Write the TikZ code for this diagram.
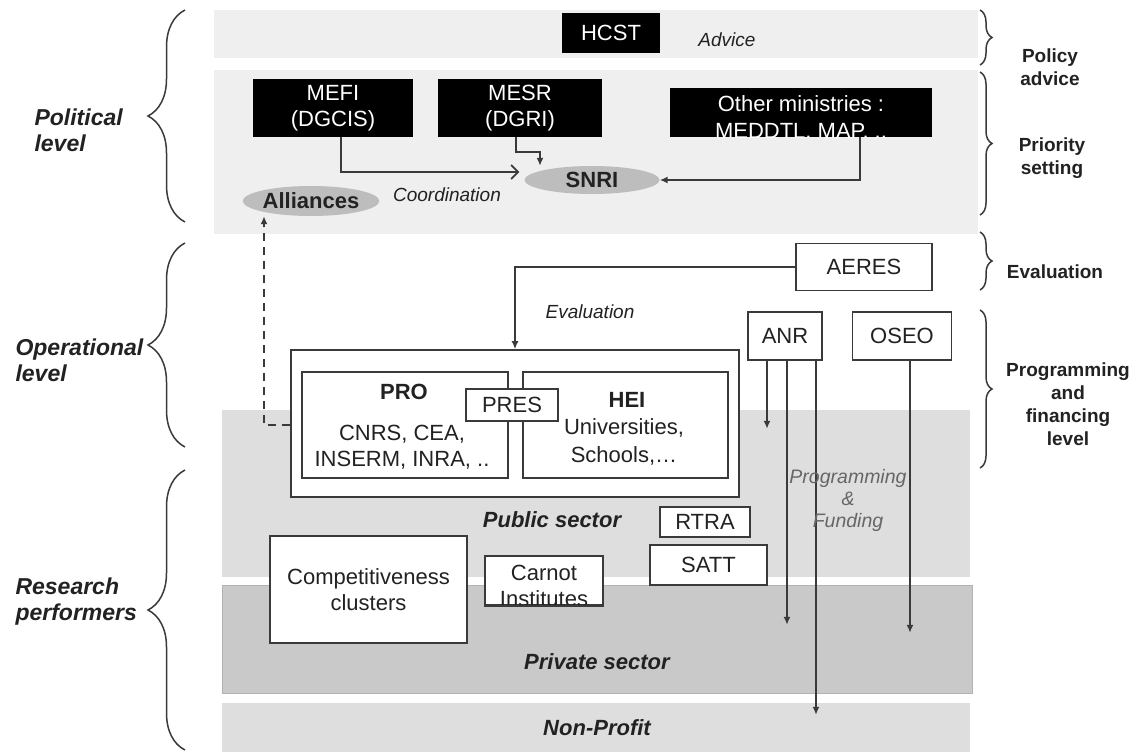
\documentclass[tikz,border=0pt]{standalone}
\usepackage{fontspec}
\setmainfont{Liberation Sans}
\usetikzlibrary{arrows.meta,decorations.pathreplacing,shapes.geometric,calc}
\definecolor{bandA}{HTML}{EFEFEF}
\definecolor{bandPub}{HTML}{DEDEDE}
\definecolor{bandPriv}{HTML}{C9C9C9}
\definecolor{ellgray}{HTML}{BDBDBD}
\definecolor{ink}{HTML}{222222}
\definecolor{edge}{HTML}{3A3A3A}
\newcommand{\fsz}[2]{\fontsize{#1}{#2}\selectfont}
\begin{document}
\begin{tikzpicture}[x=1pt,y=-1pt,
  wbox/.style={draw=edge, line width=1.6pt, fill=white, inner sep=0pt, align=center, text=ink, font=\fsz{22}{26}},
  bbox/.style={fill=black, inner sep=0pt, align=center, text=white, font=\fsz{22}{26}},
  ell/.style={ellipse, fill=ellgray, inner sep=0pt, font=\bfseries\fsz{22}{25}, text=ink},
  conn/.style={draw=edge, line width=1.7pt},
  tip/.style={-{Latex[length=8pt,width=7pt]}},
  lab/.style={font=\itshape\fsz{19}{22}, text=ink},
  side/.style={font=\bfseries\itshape\fsz{23}{26}, align=left, text=ink, anchor=west},
  rside/.style={font=\bfseries\fsz{19}{23}, align=center, text=ink},
  sector/.style={font=\bfseries\itshape\fsz{22}{25}, text=ink},
  lbrace/.style={decorate, decoration={brace, amplitude=37pt}, draw=edge, line width=1.5pt},
  rbrace/.style={decorate, decoration={brace, amplitude=12pt}, draw=edge, line width=1.5pt},
  plain/.style={font=\fsz{22}{26}, text=ink, align=center, inner sep=0pt},
]
\useasboundingbox (0,0) rectangle (1136,752);
\fill[white] (0,0) rectangle (1136,752);

% background bands
\fill[bandA] (214,10) rectangle (978,58);
\fill[bandA] (214,70) rectangle (978,234);
\fill[bandPub] (222,410) rectangle (970,577);
\filldraw[fill=bandPriv, draw=black!30, line width=1pt] (222,585) rectangle (972,693);
\fill[bandPub] (222,703) rectangle (970,752);

% braces
\draw[lbrace] (185,222) -- (185,10);
\draw[lbrace] (185,447) -- (185,243);
\draw[lbrace] (185,750) -- (185,470);
\draw[rbrace] (980,10) -- (980,65);
\draw[rbrace] (980,72) -- (980,215);
\draw[rbrace] (980,232) -- (980,290);
\draw[rbrace] (980,310) -- (980,468);

% side labels
\node[side] (pol) at (31,130) {Political\\level};
\node[side] (ope) at (12,360) {Operational\\level};
\node[side] (res) at (12,602) {Research\\performers};
\node[rside] (padv) at (1050,67) {Policy\\advice};
\node[rside] (prio) at (1052,158) {Priority\\setting};
\node[rside] (evalr) at (1055,272) {Evaluation};
\node[rside] (progr) at (1068,404) {Programming\\and\\financing\\level};

% political level
\node[bbox, minimum width=98, minimum height=40] (hcst) at (611,33) {HCST};
\node[lab] (advice) at (727,40) {Advice};
\node[bbox, minimum width=160, minimum height=58] (mefi) at (333,108) {MEFI\\(DGCIS)};
\node[bbox, minimum width=164, minimum height=58] (mesr) at (520,108) {MESR\\(DGRI)};
\node[bbox, minimum width=262, minimum height=49] (other) at (801,112.5) {};
\begin{scope}
\clip (other.north west) rectangle (other.south east);
\node[text=white, align=center, font=\fsz{22}{27}, inner sep=0pt, anchor=north] (othertxt) at (801,95) {Other ministries :\\MEDDTL, MAP, ..};
\end{scope}
\node[ell, minimum width=135, minimum height=28] (snri) at (592,180) {SNRI};
\node[ell, minimum width=136, minimum height=30] (alli) at (311,201) {Alliances};
\node[lab] (coord) at (447,195) {Coordination};

% operational level
\node[wbox, minimum width=136, minimum height=47] (aeres) at (864,267) {AERES};
\node[wbox, minimum width=74, minimum height=48] (anr) at (785,336) {ANR};
\node[wbox, minimum width=99, minimum height=48] (oseo) at (902,336) {OSEO};
\node[lab] (evallab) at (590,312) {Evaluation};

% public research
\node[wbox, minimum width=448, minimum height=147] (outer) at (515,423.5) {};
\node[wbox, minimum width=206, minimum height=106] (pro) at (405,425) {};
\node[wbox, minimum width=205, minimum height=106] (hei) at (625.5,425) {};
\node[plain, font=\bfseries\fsz{22}{26}] (protitle) at (404,392) {PRO};
\node[plain] (protext) at (402,447.5) {CNRS, CEA,\\INSERM, INRA, ..};
\node[plain, font=\bfseries\fsz{22}{26}] (heititle) at (627,400) {HEI};
\node[plain, font=\fsz{22}{28}] (heitext) at (624,442) {Universities,\\Schools,…};
\node[wbox, minimum width=92, minimum height=32] (pres) at (512,405) {PRES};

\node[sector] (pub) at (552,520) {Public sector};
\node[wbox, minimum width=90, minimum height=30] (rtra) at (705,522) {RTRA};
\node[wbox, minimum width=117, minimum height=40] (satt) at (708.5,565) {SATT};
\node[wbox, minimum width=197, minimum height=107] (comp) at (368.5,589.5) {Competitiveness\\clusters};
\node[wbox, minimum width=118, minimum height=49] (carnot) at (544,580.5) {};
\node[plain] (carnottxt) at (544,586) {Carnot\\Institutes};
\draw[draw=edge, line width=1.6pt] (carnot.south west) -- (carnot.south east);
\node[sector] (priv) at (597,662) {Private sector};
\node[sector] (nonp) at (597,728) {Non-Profit};

% connectors
\draw[conn, -{Straight Barb[length=7pt,width=14pt]}] ([xshift=8pt]mefi.south) |- ([xshift=-5pt,yshift=8pt]snri.west);
\draw[conn, tip] ([xshift=-4pt]mesr.south) -- ++(0,15) -| ([xshift=-52pt]snri.north);
\draw[conn, tip] ([xshift=59pt]other.south) |- (snri.east);
\draw[conn, tip, dash pattern=on 8pt off 6pt] (outer.west |- pro.west) -| ([xshift=-47pt]alli.south);
\draw[conn, tip] (aeres.west) -| (outer.north);
\draw[conn, tip] ([xshift=-18pt]anr.south) -- ++(0,68);
\draw[conn, tip] ([xshift=2pt]anr.south) -- ++(0,264);
\draw[conn, tip] ([xshift=31pt]anr.south) -- ++(0,354);
\draw[conn, tip] ([xshift=8pt]oseo.south) -- ++(0,272);
\node[font=\itshape\fsz{19.5}{22}, text=black!60, align=center] (pf) at (848,500) {Programming\\\&\\Funding};
\end{tikzpicture}
\end{document}
